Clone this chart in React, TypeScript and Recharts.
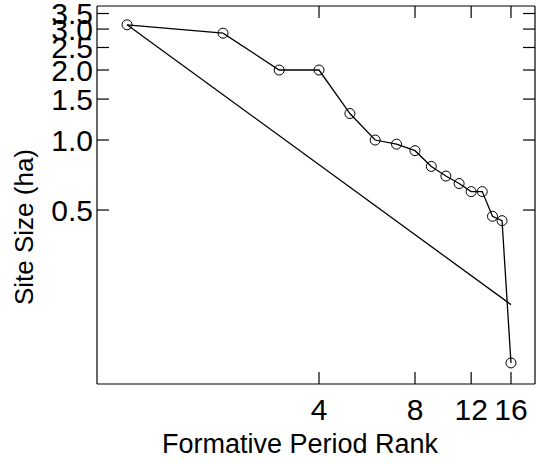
import React from "react";
import {
  ComposedChart,
  Line,
  XAxis,
  YAxis,
  Label,
} from "recharts";

// Site sizes (ha) ordered by rank, Formative period
const ranks = [1, 2, 3, 4, 5, 6, 7, 8, 9, 10, 11, 12, 13, 14, 15, 16];
const siteSizes = [
  3.13, 2.88, 2.0, 2.0, 1.3, 1.0, 0.96, 0.9, 0.77, 0.7, 0.65, 0.6, 0.6, 0.47,
  0.45, 0.11,
];

// Rank-size rule reference line: largest site at rank 1, largest / 16 at rank 16
const ruleRanks = [1, 16];
const ruleSizes = [3.13, 0.196];

const xTicks = [4, 8, 12, 16];
const yTicks = [0.5, 1.0, 1.5, 2.0, 2.5, 3.0, 3.5];

const observed = ranks.map((r, i) => ({ rank: r, size: siteSizes[i] }));
const rule = ruleRanks.map((r, i) => ({ rank: r, size: ruleSizes[i] }));

const xDomain: [number, number] = [0.805, 19.03];
const yDomain: [number, number] = [0.0893, 3.77];

const font = "'Liberation Sans', Arial, Helvetica, sans-serif";
const tickStyle = { fill: "#000", fontSize: 30, fontFamily: font };
const black = { stroke: "#000", strokeWidth: 1.2 };
const blank = () => "";

export default function App() {
  return (
    <div style={{ position: "absolute", left: 0, top: 0, background: "#fff" }}>
      <ComposedChart
        width={537}
        height={464}
        margin={{ top: 4, right: 0, bottom: 0, left: 0 }}
      >
        <XAxis
          dataKey="rank"
          type="number"
          scale="log"
          domain={xDomain}
          allowDataOverflow
          ticks={xTicks}
          interval={0}
          height={80}
          tickSize={-12}
          tickMargin={27}
          tick={tickStyle}
          fontSize={30}
          axisLine={black}
          tickLine={black}
        >
          <Label
            content={() => (
              <text
                x={300}
                y={453}
                textAnchor="middle"
                fontSize={27}
                fontFamily={font}
                fill="#000"
              >
                Formative Period Rank
              </text>
            )}
          />
        </XAxis>
        {/* top and right axes only close the frame with inward ticks */}
        <XAxis
          xAxisId="top"
          orientation="top"
          dataKey="rank"
          type="number"
          scale="log"
          domain={xDomain}
          allowDataOverflow
          ticks={xTicks}
          interval={0}
          height={2}
          tickSize={-12}
          tickFormatter={blank}
          axisLine={black}
          tickLine={black}
        />
        <YAxis
          dataKey="size"
          type="number"
          scale="log"
          domain={yDomain}
          allowDataOverflow
          ticks={yTicks}
          interval={0}
          width={97}
          tickSize={-12}
          tickMargin={16}
          tick={tickStyle}
          fontSize={30}
          tickFormatter={(v: number) => v.toFixed(1)}
          axisLine={black}
          tickLine={black}
        >
          <Label
            content={() => (
              <text
                x={33}
                y={227}
                transform="rotate(-90 33 227)"
                textAnchor="middle"
                fontSize={26}
                fontFamily={font}
                fill="#000"
              >
                Site Size (ha)
              </text>
            )}
          />
        </YAxis>
        <YAxis
          yAxisId="right"
          orientation="right"
          dataKey="size"
          type="number"
          scale="log"
          domain={yDomain}
          allowDataOverflow
          ticks={yTicks}
          interval={0}
          width={2}
          tickSize={-12}
          tickFormatter={blank}
          axisLine={black}
          tickLine={black}
        />
        <Line
          data={observed}
          xAxisId="top"
          yAxisId="right"
          dataKey="size"
          stroke="none"
          dot={false}
          activeDot={false}
          isAnimationActive={false}
        />
        <Line
          data={rule}
          dataKey="size"
          stroke="#000"
          strokeWidth={1.3}
          dot={false}
          activeDot={false}
          isAnimationActive={false}
        />
        <Line
          data={observed}
          dataKey="size"
          stroke="#000"
          strokeWidth={1.3}
          dot={{ r: 5, fill: "none", stroke: "#000", strokeWidth: 1 }}
          activeDot={false}
          isAnimationActive={false}
        />
      </ComposedChart>
    </div>
  );
}
